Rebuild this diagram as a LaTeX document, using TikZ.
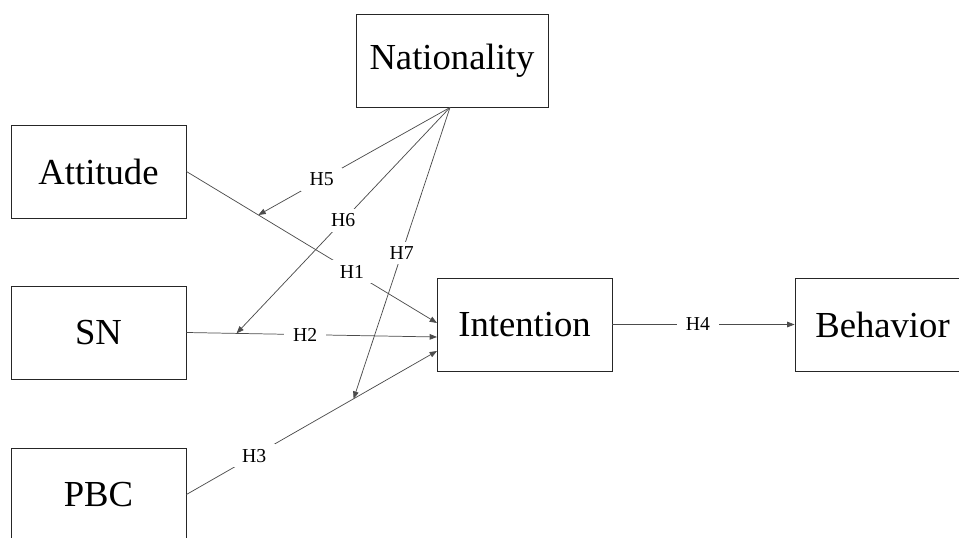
\documentclass[tikz,border=0pt]{standalone}
\usepackage{fontspec}
\setmainfont{Liberation Serif}
\usetikzlibrary{arrows.meta,calc}
\begin{document}
\begin{tikzpicture}[x=0.75pt,y=-0.75pt,
  box/.style={draw=black!85,line width=0.7pt,minimum width=131.25pt,minimum height=69.75pt,inner sep=0pt,font=\fontsize{27.5}{30}\selectfont},
  link/.style={draw=black!70,line width=0.55pt,-{Triangle[length=5.5pt,width=4.2pt]}},
  hyp/.style={fill=white,inner xsep=6.5pt,inner ysep=3.5pt,font=\fontsize{14.8}{16}\selectfont,text=black}]
\useasboundingbox (0,0) rectangle (959,538);
\clip (0,0) rectangle (959,538);
\node[box,minimum width=144pt] (nat) at (452,60.5) {Nationality};
\node[box] (att) at (98.5,171.5) {Attitude};
\node[box] (sn) at (98.5,332.5) {SN};
\node[box] (pbc) at (98.5,494.5) {PBC};
\node[box] (int) at (524.5,324.5) {Intention};
\node[box] (beh) at (882.5,324.5) {Behavior};
\coordinate (i1) at (437,323);
\coordinate (i2) at (437,337);
\coordinate (i3) at (437,351);
\coordinate (m5) at ($(att.east)!0.287!(i1)$);
\coordinate (m6) at ($(sn.east)!0.2!(i2)$);
\coordinate (m7) at ($(pbc.east)!0.667!(i3)$);
\coordinate (ns) at ($(nat.south)+(-2,0)$);
\draw[link] (att.east) -- node[hyp,pos=0.66] {H1} (i1);
\draw[link] (sn.east) -- node[hyp,pos=0.474] {H2} (i2);
\draw[link] (pbc.east) -- node[hyp,pos=0.27] {H3} (i3);
\draw[link] (int.east) -- node[hyp,pos=0.47] {H4} (beh.west);
\draw[link] (ns) -- node[hyp,pos=0.67] {H5} (m5);
\draw[link] (ns) -- node[hyp,pos=0.5] {H6} (m6);
\draw[link] (ns) -- node[hyp,pos=0.5] {H7} (m7);
\end{tikzpicture}
\end{document}
